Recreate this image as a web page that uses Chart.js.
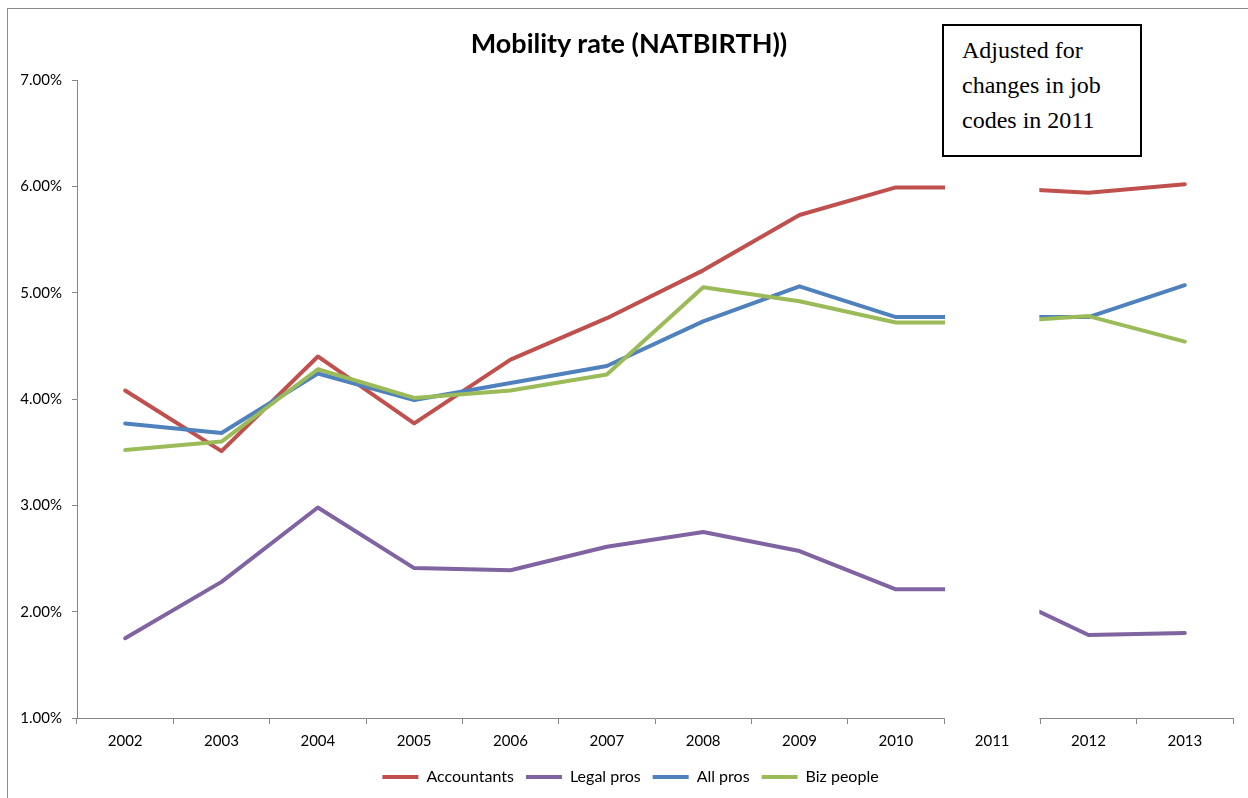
<!DOCTYPE html>
<html>
<head>
<meta charset="utf-8">
<script src="https://cdn.jsdelivr.net/npm/chart.js@4/dist/chart.umd.min.js"></script>
<style>
  html, body { margin: 0; padding: 0; background: #fff; overflow: hidden; }
  #wrap { position: relative; width: 1248px; height: 798px; }
  #frame { position: absolute; left: 7px; top: 8px; width: 1300px; height: 900px;
           border-top: 1px solid #8a8a8a; border-left: 1px solid #8a8a8a; }
  #title { position: absolute; left: 379px; top: 27px; width: 500px; text-align: center;
           font: bold 27px Lato, "Open Sans", sans-serif; line-height: 32px; color: #000; }
  #note { position: absolute; left: 942px; top: 24px; width: 196px; height: 129px;
          border: 2px solid #000; background: #fff; box-sizing: content-box;
          font: 24px "Liberation Serif", "Times New Roman", serif; line-height: 35px;
          padding: 0; color: #000; }
  #note div { padding: 7px 0 0 18px; }
  canvas { position: absolute; left: 0; top: 0; }
</style>
</head>
<body>
<div id="wrap">
  <div id="frame"></div>
  <canvas id="mobilityChart" width="1248" height="798"></canvas>
  <div id="title">Mobility rate (NATBIRTH))</div>
  <div id="note"><div>Adjusted for<br>changes in job<br>codes in 2011</div></div>
</div>
<script>
const years = ["2002", "2003", "2004", "2005", "2006", "2007", "2008", "2009", "2010", "2011", "2012", "2013"];

// percent values; 2011 is hidden behind a blank band in the original
const accountants = [4.08, 3.51, 4.40, 3.77, 4.37, 4.76, 5.21, 5.73, 5.99, 5.99, 5.94, 6.02];
const legalPros   = [1.75, 2.28, 2.98, 2.41, 2.39, 2.61, 2.75, 2.57, 2.21, 2.21, 1.78, 1.80];
const allPros     = [3.77, 3.68, 4.24, 3.99, 4.15, 4.31, 4.73, 5.06, 4.77, 4.77, 4.77, 5.07];
const bizPeople   = [3.52, 3.60, 4.28, 4.01, 4.08, 4.23, 5.05, 4.92, 4.72, 4.72, 4.78, 4.54];

const yTicks = [1, 2, 3, 4, 5, 6, 7];
const hiddenYear = "2011";

const axisGray = "#868686";
const font = "Lato, 'Open Sans', sans-serif";

function series(label, data, color, order) {
  return {
    label: label,
    data: data,
    borderColor: color,
    backgroundColor: color,
    borderWidth: 4,
    borderCapStyle: "round",
    borderJoinStyle: "round",
    pointRadius: 0,
    pointHoverRadius: 0,
    tension: 0,
    fill: false,
    order: order
  };
}

// white band over the 2011 category (axis line included, ticks left alone)
const blankYear = {
  id: "blankYear",
  afterDatasetsDraw(chart) {
    const x = chart.scales.x;
    const area = chart.chartArea;
    const idx = years.indexOf(hiddenYear);
    const half = (x.getPixelForValue(1) - x.getPixelForValue(0)) / 2;
    const left = x.getPixelForValue(idx) - half;
    const ctx = chart.ctx;
    ctx.save();
    ctx.fillStyle = "#fff";
    ctx.fillRect(left + 1, area.top - 6, half * 2 - 2, area.bottom - area.top + 7);
    ctx.restore();
  }
};

// nudge the legend a little to the right, like the original
const legendShift = {
  id: "legendShift",
  afterLayout(chart) {
    if (chart.legend) {
      chart.legend.left += 14;
      chart.legend.right += 14;
    }
  }
};

document.addEventListener("DOMContentLoaded", () => {
  const ctx = document.getElementById("mobilityChart").getContext("2d");
  new Chart(ctx, {
    type: "line",
    data: {
      labels: years,
      datasets: [
        series("Accountants", accountants, "#C0504D", 4),
        series("Legal pros", legalPros, "#8064A2", 3),
        series("All pros", allPros, "#4F81BD", 2),
        series("Biz people", bizPeople, "#9BBB59", 1)
      ]
    },
    options: {
      responsive: false,
      animation: false,
      layout: { padding: { top: 80, right: 15, bottom: 3, left: 0 } },
      plugins: {
        title: { display: false },
        tooltip: { enabled: false },
        legend: {
          position: "bottom",
          labels: {
            usePointStyle: true,
            pointStyle: "line",
            pointStyleWidth: 36,
            padding: 12,
            color: "#000",
            font: { family: font, size: 16 },
            sort: (a, b) => a.datasetIndex - b.datasetIndex
          }
        }
      },
      scales: {
        x: {
          offset: true,
          grid: { offset: true, drawOnChartArea: false, color: axisGray, tickLength: 6 },
          border: { color: axisGray, width: 1 },
          ticks: {
            color: "#000",
            padding: 8,
            maxRotation: 0,
            font: { family: font, size: 15 }
          },
          afterFit: scale => { scale.height = 39; }
        },
        y: {
          min: yTicks[0],
          max: yTicks[yTicks.length - 1],
          afterBuildTicks: scale => { scale.ticks = yTicks.map(v => ({ value: v })); },
          grid: { drawOnChartArea: false, color: axisGray, tickLength: 5 },
          border: { color: axisGray, width: 1 },
          ticks: {
            color: "#000",
            padding: 10,
            font: { family: font, size: 15 },
            callback: v => v.toFixed(2) + "%"
          },
          afterFit: scale => { scale.width = 77; }
        }
      }
    },
    plugins: [blankYear, legendShift]
  });
});
</script>
</body>
</html>
